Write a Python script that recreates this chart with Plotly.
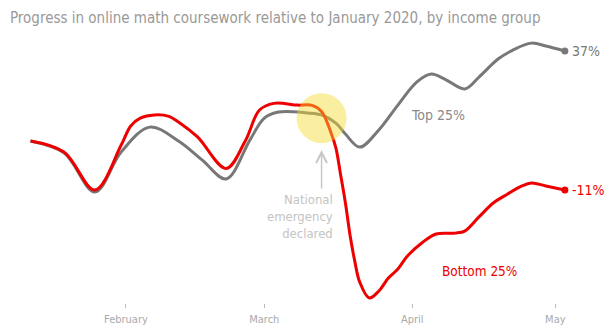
import plotly.graph_objects as go

top_dates = ["2020-01-12", "2020-01-19", "2020-01-25 12:00", "2020-01-31", "2020-02-06", "2020-02-12",
             "2020-02-17", "2020-02-22", "2020-02-27", "2020-03-01", "2020-03-04", "2020-03-10",
             "2020-03-13", "2020-03-16", "2020-03-18", "2020-03-21", "2020-03-25", "2020-03-29",
             "2020-04-02", "2020-04-05", "2020-04-08", "2020-04-12", "2020-04-15", "2020-04-19",
             "2020-04-22", "2020-04-26", "2020-04-29", "2020-05-03"]
top_values = [5.9, 1.8, -11.7, 2.1, 10.7, 5.9,
              -0.7, -7.2, 6.3, 13.8, 15.9, 15.6,
              14.9, 12.1, 8.3, 3.8, 9.7, 18.3,
              26.3, 29.0, 27.1, 23.9, 28.0, 34.2,
              37.2, 39.7, 38.7, 37.0]

bottom_dates = ["2020-01-12", "2020-01-19", "2020-01-25 12:00", "2020-01-31", "2020-02-02", "2020-02-04",
                "2020-02-07", "2020-02-10", "2020-02-12", "2020-02-16", "2020-02-22", "2020-02-26",
                "2020-02-29", "2020-03-03", "2020-03-08", "2020-03-11", "2020-03-13", "2020-03-15",
                "2020-03-16", "2020-03-17", "2020-03-18", "2020-03-19", "2020-03-20", "2020-03-21",
                "2020-03-23", "2020-03-25", "2020-03-27", "2020-03-29", "2020-03-31", "2020-04-03",
                "2020-04-06", "2020-04-10", "2020-04-12", "2020-04-15", "2020-04-18", "2020-04-21",
                "2020-04-24", "2020-04-26", "2020-04-29", "2020-05-03"]
bottom_values = [5.9, 2.1, -11.0, 4.5, 11.1, 13.8,
                 14.9, 14.4, 12.5, 7.3, -3.6, 5.9,
                 16.6, 18.9, 18.3, 18.2, 16.1, 8.7,
                 3.5, -5.8, -15.5, -26.9, -35.9, -42.8,
                 -48.3, -45.9, -41.4, -38.3, -33.8, -29.3,
                 -26.2, -25.9, -25.2, -20.3, -15.5, -12.4,
                 -9.6, -8.6, -9.6, -11.0]

tick_vals = ["2020-02-01", "2020-03-01", "2020-04-01", "2020-05-01"]
tick_text = ["February", "March", "April", "May"]

event_date = "2020-03-13"
event_label = "National<br>emergency<br>declared"

GRAY = "#787878"
RED = "#ee0000"
FONT = "DejaVu Sans Condensed, Liberation Sans Narrow, Roboto, sans-serif"

fig = go.Figure()
fig.add_trace(go.Scatter(x=top_dates, y=top_values, mode="lines",
                         line=dict(color=GRAY, width=3, shape="spline", smoothing=1),
                         hoverinfo="skip", showlegend=False))
fig.add_trace(go.Scatter(x=bottom_dates, y=bottom_values, mode="lines",
                         line=dict(color=RED, width=3, shape="spline", smoothing=1),
                         hoverinfo="skip", showlegend=False))
fig.add_trace(go.Scatter(x=[top_dates[-1]], y=[top_values[-1]], mode="markers",
                         marker=dict(color=GRAY, size=7), showlegend=False, hoverinfo="skip"))
fig.add_trace(go.Scatter(x=[bottom_dates[-1]], y=[bottom_values[-1]], mode="markers",
                         marker=dict(color=RED, size=7), showlegend=False, hoverinfo="skip"))
# highlight circle
fig.add_trace(go.Scatter(x=[event_date], y=[13.8], mode="markers",
                         marker=dict(color="rgba(245,220,46,0.45)", size=50, line=dict(width=0)),
                         showlegend=False, hoverinfo="skip", cliponaxis=False))

fig.add_annotation(x=top_dates[-1], y=top_values[-1], text=f"{top_values[-1]:.0f}%",
                   showarrow=False, xanchor="left", xshift=5,
                   font=dict(family=FONT, size=14, color=GRAY))
fig.add_annotation(x=bottom_dates[-1], y=bottom_values[-1], text=f"{bottom_values[-1]:.0f}%",
                   showarrow=False, xanchor="left", xshift=5,
                   font=dict(family=FONT, size=14, color=RED))
fig.add_annotation(x="2020-04-01", y=14.9, text="Top 25%", showarrow=False,
                   xanchor="left", xshift=-3, font=dict(family=FONT, size=14, color="#8a8a8a"))
fig.add_annotation(x="2020-04-07", y=-39.0, text="Bottom 25%", showarrow=False,
                   xanchor="left", xshift=-1, font=dict(family=FONT, size=13.5, color=RED))
fig.add_annotation(x=event_date, y=2.8, ax=0, ay=40, text="", showarrow=True,
                   arrowhead=5, arrowsize=1.4, arrowwidth=1.5, arrowcolor="#c8c8c8")
fig.add_annotation(x="2020-03-15 22:00", y=-20.2, text=event_label, showarrow=False,
                   xanchor="right", align="right",
                   font=dict(family=FONT, size=13, color="#c4c4c4"))

fig.update_layout(
    width=613, height=331,
    margin=dict(l=20, r=20, t=40, b=28),
    paper_bgcolor="white", plot_bgcolor="white",
    title=dict(text="Progress in online math coursework relative to January 2020, by income group",
               x=10/613, xref="container", xanchor="left",
               y=1-18/331, yref="container", yanchor="middle",
               font=dict(family=FONT, size=15, color="#999999")),
    xaxis=dict(range=["2020-01-09 19:00", "2020-05-08 21:30"], showgrid=False, zeroline=False,
               showline=False, tickvals=tick_vals, ticktext=tick_text, ticks="outside",
               ticklen=4, tickcolor="#bbbbbb", tickwidth=1, automargin=False,
               ticklabelstandoff=2,
               tickfont=dict(family=FONT, size=11, color="#aaaaaa")),
    yaxis=dict(range=[-50.03, 40.78], showgrid=False, zeroline=False, showline=False,
               showticklabels=False, automargin=False),
)
fig.write_html("out.html")
